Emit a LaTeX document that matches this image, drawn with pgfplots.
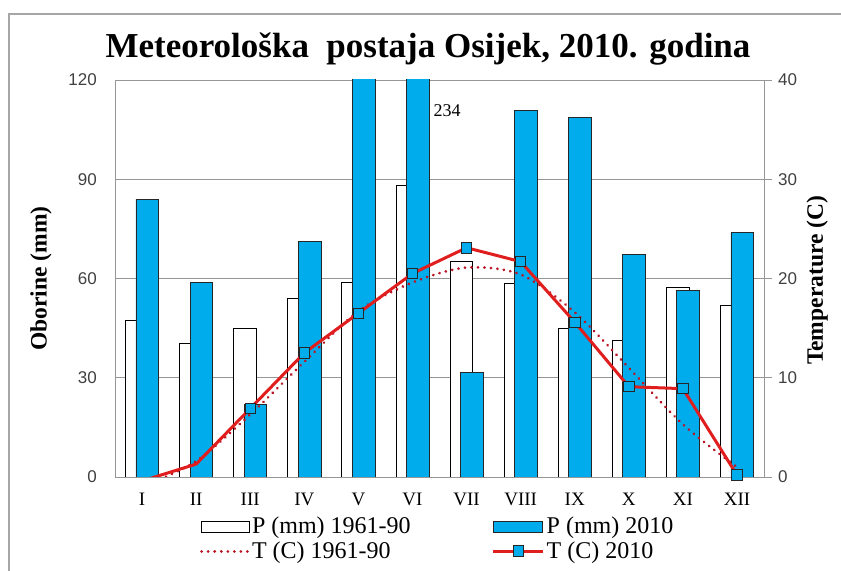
\documentclass[border=0pt]{standalone}
\usepackage{fontspec}
\setmainfont{Liberation Serif}
\newfontfamily\numfont{Liberation Sans}
\usepackage{pgfplots}
\pgfplotsset{compat=1.18}
\definecolor{barblue}{RGB}{0,172,236}
\definecolor{tred}{RGB}{224,30,30}
\definecolor{dred}{RGB}{185,20,35}
\definecolor{gridgray}{RGB}{150,150,150}

\pgfplotstableread{
x pold pnew
0 47.2 84.0
1 40.4 58.7
2 44.8 22.0
3 53.9 71.1
4 58.7 150
5 88.1 234
6 65.1 31.6
7 58.5 110.9
8 44.8 108.6
9 41.4 67.4
10 57.3 56.5
11 51.9 73.9
}\prec

\pgfplotstableread{
x told tnew
0 -1.0 -0.4
1 1.6 1.3
2 6.3 6.9
3 11.6 12.5
4 16.7 16.5
5 19.6 20.5
6 21.1 23.1
7 20.4 21.7
8 16.6 15.6
9 11.0 9.1
10 5.3 8.9
11 1.0 0.2
}\temp

\begin{document}
\begin{tikzpicture}[x=1bp,y=1bp]
\useasboundingbox (0,0) rectangle (841,571);
\draw[gray!70, line width=1.2bp] (9,-20) -- (9,557) -- (870,557);
\node[anchor=base, font=\fontsize{35bp}{40bp}\selectfont\bfseries] at (428,513) {Meteorološka\ \ postaja Osijek, 2010. godina};

\begin{axis}[
  at={(115bp,94bp)}, anchor=south west,
  scale only axis, width=649bp, height=397bp,
  xmin=-0.5, xmax=11.5, ymin=0, ymax=120,
  axis y line*=left, axis x line*=bottom,
  axis line style={gridgray, line width=0.9bp},
  ytick={0,30,60,90,120},
  xtick={0,...,11},
  xticklabels={I,II,III,IV,V,VI,VII,VIII,IX,X,XI,XII},
  major tick length=0pt,
  ymajorgrids, grid style={gridgray, line width=0.9bp},
  /pgf/number format/assume math mode=true,
  yticklabel style={font=\numfont\fontsize{17bp}{19bp}\selectfont, text=black!75, inner sep=0pt, xshift=-18bp},
  xticklabel style={font=\fontsize{19bp}{21bp}\selectfont, inner sep=0pt, yshift=-16bp},
  ylabel={Oborine (mm)},
  ylabel style={font=\bfseries\fontsize{23.5bp}{26bp}\selectfont, at={(axis description cs:-0.114,0.5)}, anchor=center},
  clip=true,
]
\addplot[ybar, bar width=0.42, bar shift=-0.097, fill=white, draw=black, line width=0.7bp] table[x=x,y=pold] {\prec};
\addplot[ybar, bar width=0.42, bar shift=0.097, fill=barblue, draw=black!85, line width=0.7bp] table[x=x,y=pnew] {\prec};
\node[font=\fontsize{18bp}{20bp}\selectfont, anchor=center] at (axis cs:5.64,110.6) {234};
\end{axis}

\begin{axis}[
  at={(115bp,94bp)}, anchor=south west,
  scale only axis, width=649bp, height=397bp,
  xmin=-0.5, xmax=11.5, ymin=0, ymax=40,
  axis y line*=right, axis x line=none,
  axis line style={gridgray, line width=0.9bp},
  ytick={0,10,20,30,40},
  major tick length=8bp, tick align=outside,
  tick style={gridgray, line width=0.9bp},
  /pgf/number format/assume math mode=true,
  yticklabel style={font=\numfont\fontsize{17bp}{19bp}\selectfont, text=black!75, inner sep=0pt, xshift=6bp},
  ylabel={Temperature (C)},
  ylabel style={font=\bfseries\fontsize{23.5bp}{26bp}\selectfont, at={(axis description cs:1.082,0.495)}, anchor=center},
  clip=true,
  legend columns=2,
  legend style={draw=none, fill=none, at={(axis description cs:0.131,-0.096)}, anchor=north west,
    font=\fontsize{24bp}{26bp}\selectfont, inner sep=0pt, row sep=2.5bp,
    /tikz/every even column/.append style={column sep=79bp},
    /tikz/every odd column/.append style={column sep=0bp}},
  legend cell align=left,
]
\addlegendimage{legend image code/.code={\draw[black, fill=white, line width=0.7bp] (0bp,-5.5bp) rectangle (48bp,5.5bp);}}
\addlegendentry{P (mm) 1961-90}
\addlegendimage{legend image code/.code={\draw[black!85, fill=barblue, line width=0.7bp] (0bp,-5.5bp) rectangle (49bp,5.5bp);}}
\addlegendentry{P (mm) 2010}
\addplot[dred, line width=3bp, dash pattern=on 0.01bp off 6.5bp, line cap=round, smooth, tension=0.5,
  legend image code/.code={\path[draw=none, fill=none] (0bp,-5.5bp) rectangle (48bp,5.5bp); \draw[dred, line width=3bp, dash pattern=on 0.01bp off 6.5bp, line cap=round] (0bp,0bp) -- (46bp,0bp);}]
  table[x=x,y=told] {\temp};
\addlegendentry{T (C) 1961-90}
\addplot[tred, line width=3bp, mark=square*, mark indices={2,3,4,5,6,7,8,9,10,11,12},
  mark options={solid, fill=barblue, draw=black!85, line width=0.8bp}, mark size=5.2bp,
  legend image code/.code={\path[draw=none, fill=none] (0bp,-5.5bp) rectangle (50bp,5.5bp); \draw[tred, line width=3bp] (0bp,0bp) -- (50bp,0bp); \draw[fill=barblue, draw=black!85, line width=0.8bp] (20bp,-5.2bp) rectangle (30.4bp,5.2bp);}]
  table[x=x,y=tnew] {\temp};
\addlegendentry{T (C) 2010}
\end{axis}
\end{tikzpicture}
\end{document}
